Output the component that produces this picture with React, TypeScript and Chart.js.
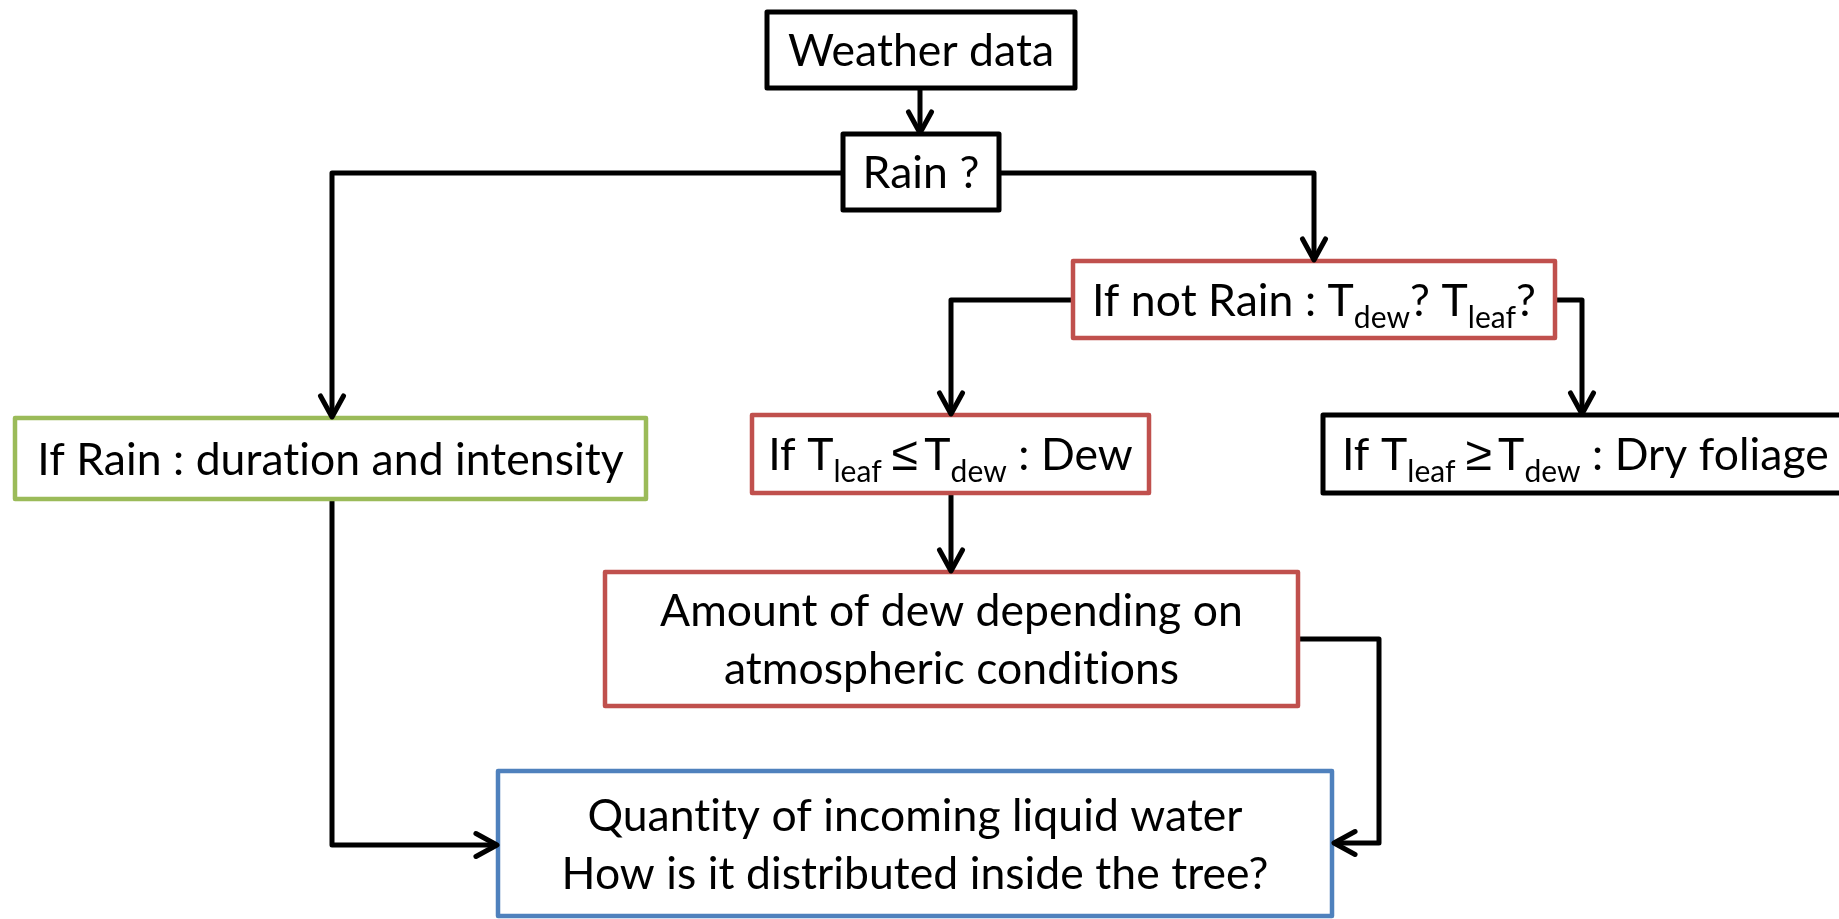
import React, { useEffect, useRef } from "react";
import { Chart, registerables } from "chart.js";

Chart.register(...registerables);

// ---- Flowchart nodes (data units = reference pixels) ----
const nodeLabels: string[][] = [
  ["Weather data"],
  ["Rain ?"],
  ["If not Rain : T_{dew}? T_{leaf}?"],
  ["If Rain : duration and intensity"],
  ["If T_{leaf} ≤ T_{dew} : Dew"],
  ["If T_{leaf} ≥ T_{dew} : Dry foliage"],
  ["Amount of dew depending on", "atmospheric conditions"],
  ["Quantity of incoming liquid water", "How is it distributed inside the tree?"],
];
const nodeLeft = [767, 843, 1073, 15, 752, 1323, 605, 498];
const nodeRight = [1075, 999, 1555, 646, 1149, 1870, 1298, 1332];
const nodeTop = [12, 134, 261, 418, 415, 415, 572, 771];
const nodeBottom = [88, 210, 338, 499, 493, 493, 706, 916];
const nodeColors = ["#000000", "#000000", "#C0504D", "#9BBB59", "#C0504D", "#000000", "#C0504D", "#4F81BD"];
const nodeAlign = ["center", "center", "center", "center", "center", "left", "center", "center"];

// ---- Connectors (polylines, arrow at last point) ----
const connectorX: number[][] = [
  [920, 920],
  [843, 332, 332],
  [999, 1314, 1314],
  [1073, 951, 951],
  [1555, 1582, 1582],
  [951, 951],
  [1298, 1379, 1379, 1334],
  [332, 332, 497],
];
const connectorY: number[][] = [
  [88, 133],
  [173, 173, 417],
  [173, 173, 260],
  [300, 300, 414],
  [300, 300, 414],
  [493, 571],
  [639, 639, 843, 843],
  [499, 845, 845],
];

const FONT_FAMILY = "Lato, 'Liberation Sans', sans-serif";
const REL_FAMILY = "'Liberation Sans', sans-serif";
const FONT_SIZE = 44.5;
const REL_SIZE = 48;
const SUB_SIZE = 30;
const SUB_DROP = 12;
const LINE_GAP = 58;

type Seg = { t: string; kind: "main" | "sub" | "rel" };
function parse(s: string): Seg[] {
  const out: Seg[] = [];
  const pushMain = (str: string) => {
    str.split(/( ?[≤≥] ?)/).forEach((p) => {
      if (!p) return;
      out.push({ t: p, kind: /[≤≥]/.test(p) ? "rel" : "main" });
    });
  };
  const re = /_\{([^}]*)\}/g;
  let last = 0;
  let m: RegExpExecArray | null;
  while ((m = re.exec(s))) {
    if (m.index > last) pushMain(s.slice(last, m.index));
    out.push({ t: m[1], kind: "sub" });
    last = m.index + m[0].length;
  }
  if (last < s.length) pushMain(s.slice(last));
  return out;
}

function setSegFont(ctx: any, sg: Seg) {
  if (sg.kind === "sub") {
    ctx.font = `${SUB_SIZE}px ${FONT_FAMILY}`;
    ctx.letterSpacing = "0.05px";
  } else if (sg.kind === "rel") {
    ctx.font = `${REL_SIZE}px ${REL_FAMILY}`;
    ctx.letterSpacing = "-3.5px";
  } else {
    ctx.font = `${FONT_SIZE}px ${FONT_FAMILY}`;
    ctx.letterSpacing = "0.05px";
  }
}

const flowPlugin = {
  id: "flow",
  afterDatasetsDraw(chart: any) {
    const ctx: any = chart.ctx;
    const xs = chart.scales.x;
    const ys = chart.scales.y;
    ctx.save();
    // boxes
    nodeLabels.forEach((lines, i) => {
      const l = xs.getPixelForValue(nodeLeft[i]);
      const r = xs.getPixelForValue(nodeRight[i]);
      const t = ys.getPixelForValue(nodeTop[i]);
      const b = ys.getPixelForValue(nodeBottom[i]);
      ctx.fillStyle = "#ffffff";
      ctx.fillRect(l, t, r - l, b - t);
      ctx.strokeStyle = nodeColors[i];
      ctx.lineWidth = nodeColors[i] === "#000000" ? 5 : 4.5;
      ctx.lineJoin = "round";
      ctx.strokeRect(l, t, r - l, b - t);
      // text
      const cy = (t + b) / 2;
      const capH = FONT_SIZE * 0.72;
      lines.forEach((line, k) => {
        const segs = parse(line);
        const baseY = cy + (k - (lines.length - 1) / 2) * LINE_GAP + capH / 2;
        let total = 0;
        const widths = segs.map((sg) => {
          setSegFont(ctx, sg);
          const w = ctx.measureText(sg.t).width;
          total += w;
          return w;
        });
        let x = nodeAlign[i] === "left" ? l + 19 : (l + r) / 2 - total / 2;
        ctx.fillStyle = "#000000";
        ctx.textBaseline = "alphabetic";
        ctx.textAlign = "left";
        segs.forEach((sg, j) => {
          setSegFont(ctx, sg);
          ctx.fillText(sg.t, x, sg.kind === "sub" ? baseY + SUB_DROP : baseY);
          x += widths[j];
        });
      });
    });
    // arrowheads
    ctx.strokeStyle = "#000000";
    ctx.lineWidth = 5;
    ctx.lineCap = "round";
    ctx.lineJoin = "round";
    connectorX.forEach((cxs, i) => {
      const n = cxs.length;
      const x1 = xs.getPixelForValue(cxs[n - 2]);
      const y1 = ys.getPixelForValue(connectorY[i][n - 2]);
      const x2 = xs.getPixelForValue(cxs[n - 1]);
      const y2 = ys.getPixelForValue(connectorY[i][n - 1]);
      const ang = Math.atan2(y2 - y1, x2 - x1);
      const len = 24;
      const spread = 0.5;
      ctx.beginPath();
      ctx.moveTo(x2 - len * Math.cos(ang - spread), y2 - len * Math.sin(ang - spread));
      ctx.lineTo(x2, y2);
      ctx.lineTo(x2 - len * Math.cos(ang + spread), y2 - len * Math.sin(ang + spread));
      ctx.stroke();
    });
    ctx.restore();
  },
};

export default function App() {
  const ref = useRef<HTMLCanvasElement | null>(null);
  useEffect(() => {
    document.body.style.margin = "0";
    const canvas = ref.current!;
    const datasets = connectorX.map((cxs, i) => ({
      data: cxs.map((x, k) => ({ x, y: connectorY[i][k] })),
      showLine: true,
      borderColor: "#000000",
      borderWidth: 5,
      pointRadius: 0,
      borderJoinStyle: "round" as const,
      borderCapStyle: "butt" as const,
      tension: 0,
    }));
    const chart = new Chart(canvas, {
      type: "scatter",
      data: { datasets },
      options: {
        animation: false,
        responsive: false,
        devicePixelRatio: 1,
        layout: { padding: 0 },
        plugins: { legend: { display: false }, tooltip: { enabled: false } },
        scales: {
          x: { type: "linear", min: 0, max: 1839, display: false },
          y: { type: "linear", min: 0, max: 919, reverse: true, display: false },
        },
      },
      plugins: [flowPlugin],
    });
    return () => chart.destroy();
  }, []);
  return (
    <div style={{ width: 1839, height: 919, background: "#ffffff" }}>
      <canvas ref={ref} width={1839} height={919} />
    </div>
  );
}
